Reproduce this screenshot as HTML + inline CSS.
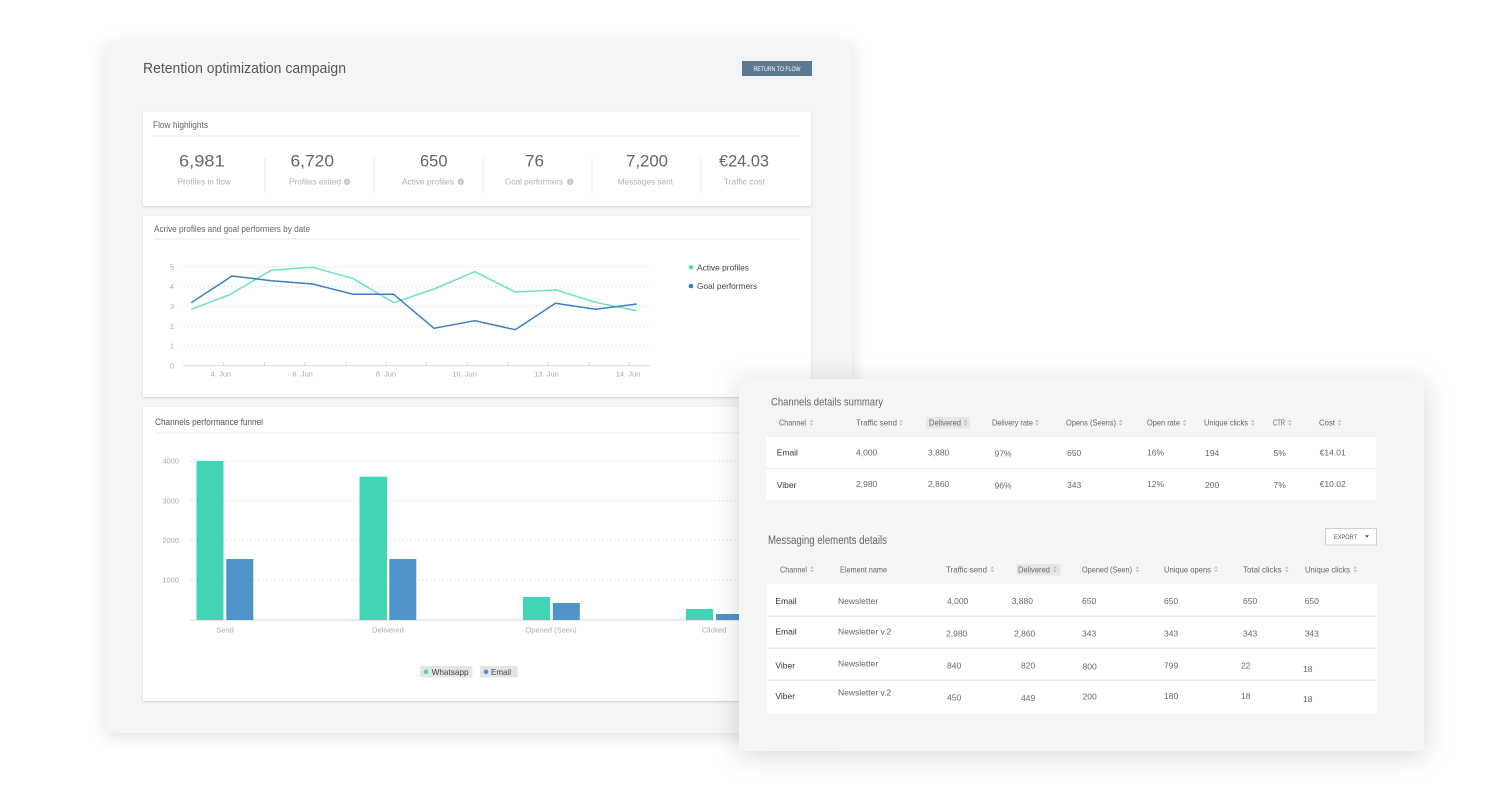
<!DOCTYPE html>
<html><head><meta charset="utf-8">
<style>
html,body{margin:0;padding:0;background:#fff;width:1505px;height:800px;overflow:hidden;position:relative;font-family:"Liberation Sans",sans-serif}
.abs{position:absolute}
svg{position:absolute;left:0;top:0}
text{font-family:"Liberation Sans",sans-serif}
</style></head><body>

<!-- LEFT PANEL -->
<div class="abs" style="left:107px;top:42px;width:745px;height:691px;background:#f5f5f5;box-shadow:0 3px 16px rgba(0,0,0,0.13)"></div>
<div class="abs" style="left:143px;top:112px;width:668px;height:94px;background:#fff;box-shadow:0 1px 2px rgba(0,0,0,0.16)"></div>
<div class="abs" style="left:143px;top:216px;width:668px;height:181px;background:#fff;box-shadow:0 1px 2px rgba(0,0,0,0.16)"></div>
<div class="abs" style="left:143px;top:407px;width:668px;height:294px;background:#fff;box-shadow:0 1px 2px rgba(0,0,0,0.16)"></div>

<svg width="1505" height="800" viewBox="0 0 1505 800">
  <!-- header -->
  <text x="143" y="73" font-size="15" fill="#555" textLength="203" lengthAdjust="spacingAndGlyphs">Retention optimization campaign</text>
  <rect x="497" y="60" width="233" height="28" fill="#f6f6f6"/>
  <rect x="742" y="61" width="70" height="15" fill="#5d7a93"/>
  <text x="777" y="71" font-size="6" fill="#fff" text-anchor="middle" textLength="47" lengthAdjust="spacingAndGlyphs">RETURN TO FLOW</text>

  <!-- Flow highlights -->
  <text x="153" y="128" font-size="9" fill="#666" textLength="55" lengthAdjust="spacingAndGlyphs">Flow highlights</text>
  <line x1="153" y1="136" x2="800" y2="136" stroke="#e8e8e8" stroke-width="1"/>
  <g stroke="#e8e8e8" stroke-width="1">
    <line x1="265" y1="158" x2="265" y2="193"/>
    <line x1="374" y1="158" x2="374" y2="193"/>
    <line x1="483" y1="158" x2="483" y2="193"/>
    <line x1="592" y1="158" x2="592" y2="193"/>
    <line x1="701" y1="158" x2="701" y2="193"/>
  </g>
  <g font-size="17" fill="#666">
    <text x="179" y="166.7" textLength="45.6" lengthAdjust="spacingAndGlyphs">6,981</text>
    <text x="290.5" y="166.7" textLength="43.5" lengthAdjust="spacingAndGlyphs">6,720</text>
    <text x="420" y="166.7" textLength="27.5" lengthAdjust="spacingAndGlyphs">650</text>
    <text x="525" y="166.7" textLength="19" lengthAdjust="spacingAndGlyphs">76</text>
    <text x="626" y="166.7" textLength="42" lengthAdjust="spacingAndGlyphs">7,200</text>
    <text x="719" y="166.7" textLength="50" lengthAdjust="spacingAndGlyphs">€24.03</text>
  </g>
  <g font-size="8.5" fill="#b0b0b0">
    <text x="177.6" y="184.7" textLength="53.3" lengthAdjust="spacingAndGlyphs">Profiles in flow</text>
    <text x="289" y="184.7" textLength="52" lengthAdjust="spacingAndGlyphs">Profiles exited</text>
    <text x="402" y="184.7" textLength="51.8" lengthAdjust="spacingAndGlyphs">Active profiles</text>
    <text x="505" y="184.7" textLength="58" lengthAdjust="spacingAndGlyphs">Goal performers</text>
    <text x="617.7" y="184.7" textLength="55.3" lengthAdjust="spacingAndGlyphs">Messages sent</text>
    <text x="723.8" y="184.7" textLength="41.2" lengthAdjust="spacingAndGlyphs">Traffic cost</text>
  </g>
  <g fill="#c6c6c6">
    <circle cx="347" cy="181.7" r="3.2"/>
    <circle cx="460.8" cy="181.7" r="3.2"/>
    <circle cx="570.2" cy="181.7" r="3.2"/>
  </g>
  <g stroke="#fff" stroke-width="0.8">
    <line x1="347" y1="180.6" x2="347" y2="183.4"/>
    <line x1="460.8" y1="180.6" x2="460.8" y2="183.4"/>
    <line x1="570.2" y1="180.6" x2="570.2" y2="183.4"/>
  </g>

  <!-- Line chart card -->
  <text x="154" y="232" font-size="9" fill="#666" textLength="156" lengthAdjust="spacingAndGlyphs">Acrive profiles and goal performers by date</text>
  <line x1="154" y1="239" x2="800" y2="239" stroke="#e8e8e8" stroke-width="1"/>
  <g stroke="#e3e3e3" stroke-width="1" stroke-dasharray="2,2">
    <line x1="183" y1="266.7" x2="650" y2="266.7"/>
    <line x1="183" y1="286.5" x2="650" y2="286.5"/>
    <line x1="183" y1="306.3" x2="650" y2="306.3"/>
    <line x1="183" y1="326.1" x2="650" y2="326.1"/>
    <line x1="183" y1="345.9" x2="650" y2="345.9"/>
  </g>
  <line x1="183" y1="365.7" x2="650" y2="365.7" stroke="#dcdcdc" stroke-width="1"/>
  <g stroke="#dcdcdc" stroke-width="1">
    <line x1="223.3" y1="362" x2="223.3" y2="365.7"/>
    <line x1="264.5" y1="362" x2="264.5" y2="365.7"/>
    <line x1="304.8" y1="362" x2="304.8" y2="365.7"/>
    <line x1="346" y1="362" x2="346" y2="365.7"/>
    <line x1="385.9" y1="362" x2="385.9" y2="365.7"/>
    <line x1="426.2" y1="362" x2="426.2" y2="365.7"/>
    <line x1="467.4" y1="362" x2="467.4" y2="365.7"/>
    <line x1="507.8" y1="362" x2="507.8" y2="365.7"/>
    <line x1="547.7" y1="362" x2="547.7" y2="365.7"/>
    <line x1="588.9" y1="362" x2="588.9" y2="365.7"/>
    <line x1="629.2" y1="362" x2="629.2" y2="365.7"/>
  </g>
  <g font-size="7.5" fill="#aaa" text-anchor="end">
    <text x="174" y="269.4">5</text>
    <text x="174" y="289.2">4</text>
    <text x="174" y="309">3</text>
    <text x="174" y="328.8">2</text>
    <text x="174" y="348.6">1</text>
    <text x="174" y="368.4">0</text>
  </g>
  <g font-size="7.5" fill="#aaa" text-anchor="middle">
    <text x="221" y="376.7">4. Jun</text>
    <text x="302.6" y="376.7">6. Jun</text>
    <text x="386" y="376.7">8. Jun</text>
    <text x="464.5" y="376.7">10. Jun</text>
    <text x="546.5" y="376.7">13. Jun</text>
    <text x="628" y="376.7">14. Jun</text>
  </g>
  <polyline fill="none" stroke="#6fe0c3" stroke-width="1.5" stroke-linejoin="round"
    points="191.2,309.3 228.9,295 271.4,270.3 312.6,267.3 352.5,278.3 393.7,302.7 434,289 474.8,271.7 515.2,292 556.4,290 595.4,302.3 636.6,310.7"/>
  <polyline fill="none" stroke="#3c7fc0" stroke-width="1.5" stroke-linejoin="round"
    points="191.2,302.7 232,276 271.4,280.7 312.6,284 353.4,294.3 393.7,294.3 434,328.3 474.8,320.7 515.2,329.7 555.5,303.3 595.4,309.3 636.6,304"/>
  <circle cx="691" cy="267.3" r="2.3" fill="#55dbbd"/>
  <text x="697" y="270.3" font-size="8.5" fill="#444" textLength="52" lengthAdjust="spacingAndGlyphs">Active profiles</text>
  <circle cx="691" cy="286" r="2.3" fill="#3c7fc0"/>
  <text x="697" y="289" font-size="8.5" fill="#444" textLength="60" lengthAdjust="spacingAndGlyphs">Goal performers</text>

  <!-- Bar chart card -->
  <text x="155" y="425" font-size="9" fill="#555" textLength="108" lengthAdjust="spacingAndGlyphs">Channels performance funnel</text>
  <line x1="155" y1="433" x2="800" y2="433" stroke="#e8e8e8" stroke-width="1"/>
  <g stroke="#e6e6e6" stroke-width="1" stroke-dasharray="2,2">
    <line x1="190" y1="461" x2="800" y2="461"/>
    <line x1="190" y1="500.7" x2="800" y2="500.7"/>
    <line x1="190" y1="540.3" x2="800" y2="540.3"/>
    <line x1="190" y1="580" x2="800" y2="580"/>
  </g>
  <line x1="190" y1="620" x2="800" y2="620" stroke="#e2e2e2" stroke-width="1.5"/>
  <g font-size="7.5" fill="#aaa" text-anchor="end">
    <text x="179" y="463.7">4000</text>
    <text x="179" y="503.4">3000</text>
    <text x="179" y="543">2000</text>
    <text x="179" y="582.7">1000</text>
  </g>
  <g fill="#42d5b5">
    <rect x="196.5" y="461" width="27" height="159"/>
    <rect x="359.5" y="476.7" width="27.5" height="143.3"/>
    <rect x="523" y="597" width="27" height="23"/>
    <rect x="686" y="609" width="27" height="11"/>
  </g>
  <g fill="#4f93cb">
    <rect x="226.3" y="559" width="27" height="61"/>
    <rect x="389.3" y="559" width="27" height="61"/>
    <rect x="552.8" y="603" width="27" height="17"/>
    <rect x="716" y="614" width="27" height="6"/>
  </g>
  <g font-size="7.5" fill="#aaa" text-anchor="middle">
    <text x="225" y="632.7">Send</text>
    <text x="388" y="632.7">Delivered</text>
    <text x="551" y="632.7">Opened  (Seen)</text>
    <text x="714" y="632.7">Clicked</text>
  </g>
  <rect x="420" y="666" width="52.5" height="11.5" fill="#e4e4e4" rx="1"/>
  <circle cx="426" cy="671.8" r="2.3" fill="#42d5b5"/>
  <text x="431.6" y="674.8" font-size="8.5" fill="#444" textLength="37" lengthAdjust="spacingAndGlyphs">Whatsapp</text>
  <rect x="480" y="666" width="37.5" height="11.5" fill="#e4e4e4" rx="1"/>
  <circle cx="486" cy="671.8" r="2.3" fill="#4f93cb"/>
  <text x="491" y="674.8" font-size="8.5" fill="#444" textLength="20" lengthAdjust="spacingAndGlyphs">Email</text>
</svg>

<!-- RIGHT PANEL -->
<div class="abs" style="left:739px;top:379px;width:685px;height:372px;background:#f5f5f5;box-shadow:0 4px 26px rgba(0,0,0,0.17)"></div>
<div class="abs" style="left:766px;top:437px;width:610px;height:63px;background:#fff"></div>
<div class="abs" style="left:767px;top:584px;width:610px;height:130px;background:#fff"></div>

<svg width="1505" height="800" viewBox="0 0 1505 800">
  <text x="771" y="405.5" font-size="11" fill="#666" textLength="112" lengthAdjust="spacingAndGlyphs">Channels details summary</text>
  <rect x="926" y="417" width="44" height="11.5" fill="#e6e6e6"/>
  <g font-size="8.5" fill="#666">
    <text x="779" y="425.7" textLength="27" lengthAdjust="spacingAndGlyphs">Channel</text>
    <text x="856" y="425.7" textLength="41" lengthAdjust="spacingAndGlyphs">Traffic send</text>
    <text x="929" y="425.7" textLength="32" lengthAdjust="spacingAndGlyphs">Delivered</text>
    <text x="992" y="425.7" textLength="41" lengthAdjust="spacingAndGlyphs">Delivery rate</text>
    <text x="1066" y="425.7" textLength="50" lengthAdjust="spacingAndGlyphs">Opens (Seens)</text>
    <text x="1147" y="425.7" textLength="33" lengthAdjust="spacingAndGlyphs">Open rate</text>
    <text x="1204" y="425.7" textLength="44" lengthAdjust="spacingAndGlyphs">Unique clicks</text>
    <text x="1273" y="425.7" textLength="12" lengthAdjust="spacingAndGlyphs">CTR</text>
    <text x="1319" y="425.7" textLength="16" lengthAdjust="spacingAndGlyphs">Cost</text>
  </g>
  <path fill="#bbb" d="M809.7,421.9l1.8,-2.2l1.8,2.2zM809.7,423.5l1.8,2.2l1.8,-2.2z
    M899.2,421.9l1.8,-2.2l1.8,2.2zM899.2,423.5l1.8,2.2l1.8,-2.2z
    M963.7,421.9l1.8,-2.2l1.8,2.2zM963.7,423.5l1.8,2.2l1.8,-2.2z
    M1035.2,421.9l1.8,-2.2l1.8,2.2zM1035.2,423.5l1.8,2.2l1.8,-2.2z
    M1119,421.9l1.8,-2.2l1.8,2.2zM1119,423.5l1.8,2.2l1.8,-2.2z
    M1182.8,421.9l1.8,-2.2l1.8,2.2zM1182.8,423.5l1.8,2.2l1.8,-2.2z
    M1251,421.9l1.8,-2.2l1.8,2.2zM1251,423.5l1.8,2.2l1.8,-2.2z
    M1288,421.9l1.8,-2.2l1.8,2.2zM1288,423.5l1.8,2.2l1.8,-2.2z
    M1337.7,421.9l1.8,-2.2l1.8,2.2zM1337.7,423.5l1.8,2.2l1.8,-2.2z"/>
  <line x1="766" y1="468.5" x2="1376" y2="468.5" stroke="#ececec" stroke-width="1.5"/>
  <g font-size="8.5" fill="#333">
    <text x="776.7" y="455.3">Email</text>
    <text x="776.7" y="488">Viber</text>
  </g>
  <g font-size="8.5" fill="#666">
    <text x="856" y="455.3">4,000</text>
    <text x="928" y="455.3">3,880</text>
    <text x="994.5" y="456.5">97%</text>
    <text x="1067" y="456">650</text>
    <text x="1147" y="455.3">16%</text>
    <text x="1205" y="456">194</text>
    <text x="1273.5" y="456">5%</text>
    <text x="1319.7" y="455.3">€14.01</text>
    <text x="856" y="487">2,980</text>
    <text x="928" y="487">2,860</text>
    <text x="994.5" y="488.5">96%</text>
    <text x="1067" y="488">343</text>
    <text x="1147" y="487">12%</text>
    <text x="1205" y="488">200</text>
    <text x="1273.5" y="488">7%</text>
    <text x="1319.7" y="487">€10.02</text>
  </g>

  <!-- Messaging elements -->
  <text x="768" y="544" font-size="11.5" fill="#666" textLength="119" lengthAdjust="spacingAndGlyphs">Messaging elements details</text>
  <rect x="1325.5" y="528.5" width="51" height="16.5" fill="#fff" stroke="#c5d2de" stroke-width="1"/>
  <text x="1334" y="538.8" font-size="6.5" fill="#555" textLength="23" lengthAdjust="spacingAndGlyphs">EXPORT</text>
  <path d="M1365,535.3l4,0l-2,2.6z" fill="#555"/>
  <rect x="1016.5" y="564" width="44" height="11.5" fill="#e6e6e6"/>
  <g font-size="8.5" fill="#666">
    <text x="780" y="572.3" textLength="27" lengthAdjust="spacingAndGlyphs">Channel</text>
    <text x="840" y="572.3" textLength="47" lengthAdjust="spacingAndGlyphs">Element name</text>
    <text x="946" y="572.3" textLength="41" lengthAdjust="spacingAndGlyphs">Traffic send</text>
    <text x="1018" y="572.3" textLength="32" lengthAdjust="spacingAndGlyphs">Delivered</text>
    <text x="1082" y="572.3" textLength="50" lengthAdjust="spacingAndGlyphs">Opened (Seen)</text>
    <text x="1164" y="572.3" textLength="47" lengthAdjust="spacingAndGlyphs">Unique opens</text>
    <text x="1243" y="572.3" textLength="38.5" lengthAdjust="spacingAndGlyphs">Total clicks</text>
    <text x="1305" y="572.3" textLength="45" lengthAdjust="spacingAndGlyphs">Unique clicks</text>
  </g>
  <path fill="#bbb" d="M810.2,568.5l1.8,-2.2l1.8,2.2zM810.2,570.1l1.8,2.2l1.8,-2.2z
    M990.5,568.5l1.8,-2.2l1.8,2.2zM990.5,570.1l1.8,2.2l1.8,-2.2z
    M1053,568.5l1.8,-2.2l1.8,2.2zM1053,570.1l1.8,2.2l1.8,-2.2z
    M1135.7,568.5l1.8,-2.2l1.8,2.2zM1135.7,570.1l1.8,2.2l1.8,-2.2z
    M1214.2,568.5l1.8,-2.2l1.8,2.2zM1214.2,570.1l1.8,2.2l1.8,-2.2z
    M1284.9,568.5l1.8,-2.2l1.8,2.2zM1284.9,570.1l1.8,2.2l1.8,-2.2z
    M1353.5,568.5l1.8,-2.2l1.8,2.2zM1353.5,570.1l1.8,2.2l1.8,-2.2z"/>
  <g stroke="#ececec" stroke-width="1.5">
    <line x1="767" y1="616.3" x2="1377" y2="616.3"/>
    <line x1="767" y1="648.3" x2="1377" y2="648.3"/>
    <line x1="767" y1="680.3" x2="1377" y2="680.3"/>
  </g>
  <g font-size="8.5" fill="#333">
    <text x="775.4" y="604">Email</text>
    <text x="775.4" y="634.7">Email</text>
    <text x="775.4" y="668.3">Viber</text>
    <text x="775.4" y="699">Viber</text>
  </g>
  <g font-size="8.5" fill="#666">
    <text x="838" y="604">Newsletter</text>
    <text x="947" y="604">4,000</text>
    <text x="1011.7" y="604">3,880</text>
    <text x="1082" y="604">650</text>
    <text x="1164" y="604">650</text>
    <text x="1243" y="604">650</text>
    <text x="1304.7" y="604">650</text>

    <text x="838" y="634.7">Newsletter v.2</text>
    <text x="946" y="636.3">2,980</text>
    <text x="1014" y="636.3">2,860</text>
    <text x="1082" y="636.3">343</text>
    <text x="1164" y="636.3">343</text>
    <text x="1243" y="636.3">343</text>
    <text x="1304.7" y="636.3">343</text>

    <text x="838" y="666.3">Newsletter</text>
    <text x="947" y="668.3">840</text>
    <text x="1021" y="668.3">820</text>
    <text x="1082.5" y="669.7">800</text>
    <text x="1164" y="668.3">799</text>
    <text x="1241" y="668.3">22</text>
    <text x="1303" y="672">18</text>

    <text x="838" y="695.7">Newsletter v.2</text>
    <text x="947" y="700.7">450</text>
    <text x="1021" y="701">449</text>
    <text x="1082.5" y="699.7">200</text>
    <text x="1164" y="699">180</text>
    <text x="1241" y="699">18</text>
    <text x="1303" y="702">18</text>
  </g>
</svg>
</body></html>
